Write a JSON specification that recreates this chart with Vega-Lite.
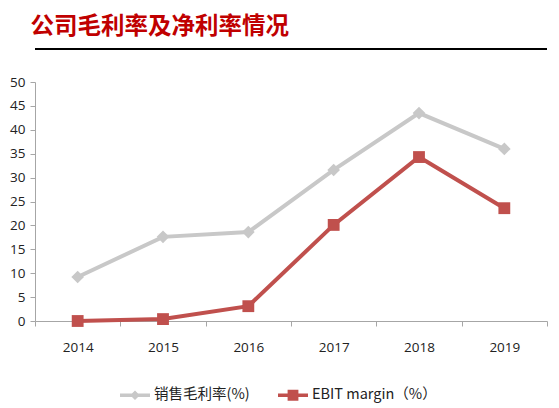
{
  "$schema": "https://vega.github.io/schema/vega-lite/v6.json",
  "width": 512,
  "height": 239,
  "autosize": "none",
  "padding": {"left": 35, "top": 82, "right": 12, "bottom": 87},
  "background": "white",
  "title": {
    "text": "公司毛利率及净利率情况",
    "anchor": "start",
    "dx": 21,
    "offset": 10,
    "font": "Noto Sans CJK SC",
    "fontSize": 23.5,
    "fontWeight": "bold",
    "color": "#C00000"
  },
  "data": {
    "values": [
      {"year": "2014", "series": "销售毛利率(%)", "value": 9.2},
      {"year": "2015", "series": "销售毛利率(%)", "value": 17.6},
      {"year": "2016", "series": "销售毛利率(%)", "value": 18.6},
      {"year": "2017", "series": "销售毛利率(%)", "value": 31.6},
      {"year": "2018", "series": "销售毛利率(%)", "value": 43.5},
      {"year": "2019", "series": "销售毛利率(%)", "value": 36.0},
      {"year": "2014", "series": "EBIT margin（%）", "value": 0.0},
      {"year": "2015", "series": "EBIT margin（%）", "value": 0.4},
      {"year": "2016", "series": "EBIT margin（%）", "value": 3.1},
      {"year": "2017", "series": "EBIT margin（%）", "value": 20.1},
      {"year": "2018", "series": "EBIT margin（%）", "value": 34.3},
      {"year": "2019", "series": "EBIT margin（%）", "value": 23.6}
    ]
  },
  "encoding": {
    "x": {
      "field": "year",
      "type": "ordinal",
      "title": null,
      "scale": {"paddingInner": 0, "paddingOuter": 0},
      "axis": {
        "labelAngle": 0,
        "tickBand": "extent",
        "domainColor": "#A6A6A6",
        "tickColor": "#A6A6A6",
        "tickSize": 5,
        "labelPadding": 14,
        "labelFont": "Open Sans",
        "labelFontSize": 13.5,
        "labelColor": "#222222"
      }
    },
    "y": {
      "field": "value",
      "type": "quantitative",
      "title": null,
      "scale": {"domain": [0, 50], "nice": false},
      "axis": {
        "values": [0, 5, 10, 15, 20, 25, 30, 35, 40, 45, 50],
        "grid": false,
        "domainColor": "#A6A6A6",
        "tickColor": "#A6A6A6",
        "tickSize": 5,
        "labelPadding": 5,
        "labelFont": "Open Sans",
        "labelFontSize": 13.5,
        "labelColor": "#222222"
      }
    },
    "color": {
      "field": "series",
      "type": "nominal",
      "sort": ["销售毛利率(%)", "EBIT margin（%）"],
      "scale": {"domain": ["销售毛利率(%)", "EBIT margin（%）"], "range": ["#C8C8C8", "#C0504D"]},
      "legend": {
        "title": null,
        "orient": "none",
        "direction": "horizontal",
        "legendX": 85,
        "legendY": 298,
        "symbolSize": 900,
        "symbolOpacity": 1,
        "symbolStrokeWidth": 0,
        "labelFont": "Noto Sans CJK SC",
        "labelFontSize": 14.5,
        "labelColor": "#222222",
        "labelOffset": 4,
        "columnPadding": 28,
        "encode": {
          "symbols": {
            "update": {
              "opacity": {"value": 1},
              "fillOpacity": {"value": 1},
              "strokeWidth": {"value": 0}
            }
          }
        }
      }
    }
  },
  "layer": [
    {
      "mark": {"type": "rule", "color": "#000000", "strokeWidth": 2},
      "encoding": {
        "x": null,
        "color": null,
        "y": {"datum": 56.9}
      }
    },
    {
      "mark": {"type": "line", "strokeWidth": 4}
    },
    {
      "transform": [{"filter": "datum.series == '销售毛利率(%)'"}],
      "mark": {"type": "point", "shape": "diamond", "filled": true, "opacity": 1, "size": 160}
    },
    {
      "transform": [{"filter": "datum.series == 'EBIT margin（%）'"}],
      "mark": {"type": "point", "shape": "square", "filled": true, "opacity": 1, "size": 140}
    },
    {
      "mark": {"type": "point", "filled": true, "opacity": 0},
      "encoding": {
        "shape": {
          "field": "series",
          "type": "nominal",
          "scale": {
            "domain": ["销售毛利率(%)", "EBIT margin（%）"],
            "range": [
              "M-1,-0.12L1,-0.12L1,0.12L-1,0.12Z M0,-0.32L0.32,0L0,0.32L-0.32,0Z",
              "M-1,-0.11L1,-0.11L1,0.11L-1,0.11Z M-0.36,-0.36L0.36,-0.36L0.36,0.36L-0.36,0.36Z"
            ]
          },
          "legend": {"title": null}
        }
      }
    }
  ],
  "config": {
    "view": {"stroke": null}
  }
}
